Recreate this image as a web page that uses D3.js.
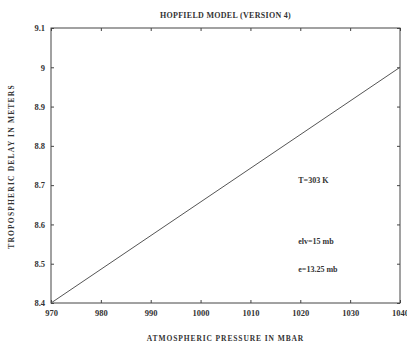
<!DOCTYPE html>
<html>
<head>
<meta charset="utf-8">
<script src="https://cdn.jsdelivr.net/npm/d3@7"></script>
<style>
  html, body { margin: 0; padding: 0; background: #fff; }
  svg { display: block; }
  text { font-family: "Liberation Serif", "DejaVu Serif", serif; fill: #333; }
</style>
</head>
<body>
<svg id="chart" width="407" height="345"></svg>
<script>
// Tropospheric delay vs. atmospheric pressure (Hopfield model, version 4)
const pressure = [970, 1040];
const delay = [8.4, 9.0];
const xTicks = [970, 980, 990, 1000, 1010, 1020, 1030, 1040];
const yTicks = [8.4, 8.5, 8.6, 8.7, 8.8, 8.9, 9.0, 9.1];
const yTickLabels = ["8.4", "8.5", "8.6", "8.7", "8.8", "8.9", "9", "9.1"];
const notes = ["T=303 K", "elv=15 mb", "e=13.25 mb"];
const noteY = [8.705, 8.55, 8.48];

const svg = d3.select("#chart");
const m = { left: 51, right: 400, top: 28, bottom: 303 };

const x = d3.scaleLinear().domain([970, 1040]).range([m.left, m.right]);
const y = d3.scaleLinear().domain([8.4, 9.1]).range([m.bottom, m.top]);

const ink = "#444";

// frame
svg.append("rect")
  .attr("x", m.left).attr("y", m.top)
  .attr("width", m.right - m.left).attr("height", m.bottom - m.top)
  .attr("fill", "none").attr("stroke", ink).attr("stroke-width", 1);

const tickLen = 3;

// bottom axis (inward ticks)
const xb = d3.axisBottom(x).tickValues(xTicks).tickSize(-tickLen).tickPadding(7)
  .tickFormat(d3.format("d"));
const gxb = svg.append("g").attr("transform", `translate(0,${m.bottom})`).call(xb);
// top axis ticks
const xt = d3.axisTop(x).tickValues(xTicks).tickSize(-tickLen).tickFormat("");
const gxt = svg.append("g").attr("transform", `translate(0,${m.top})`).call(xt);
// left axis
const yl = d3.axisLeft(y).tickValues(yTicks).tickSize(-tickLen).tickPadding(6)
  .tickFormat((d, i) => yTickLabels[i]);
const gyl = svg.append("g").attr("transform", `translate(${m.left},0)`).call(yl);
// right axis ticks
const yr = d3.axisRight(y).tickValues(yTicks).tickSize(-tickLen).tickFormat("");
const gyr = svg.append("g").attr("transform", `translate(${m.right},0)`).call(yr);

[gxb, gxt, gyl, gyr].forEach(g => {
  g.select(".domain").remove();
  g.selectAll(".tick line").attr("stroke", ink);
  g.selectAll(".tick text")
    .attr("font-family", "Liberation Serif, serif")
    .attr("font-size", 8.5).attr("font-weight", "bold").attr("fill", "#444");
});

// data line
svg.append("path")
  .datum(pressure.map((p, i) => [p, delay[i]]))
  .attr("fill", "none").attr("stroke", "#555").attr("stroke-width", 1)
  .attr("d", d3.line().x(d => x(d[0])).y(d => y(d[1])));

// title
svg.append("text")
  .attr("x", (m.left + m.right) / 2).attr("y", 18)
  .attr("text-anchor", "middle").attr("font-size", 8).attr("font-weight", "bold")
  .attr("letter-spacing", 0.3)
  .text("HOPFIELD MODEL (VERSION 4)");

// x axis title
svg.append("text")
  .attr("x", (m.left + m.right) / 2).attr("y", 341)
  .attr("text-anchor", "middle").attr("font-size", 7.5).attr("font-weight", "bold")
  .attr("letter-spacing", 0.9)
  .text("ATMOSPHERIC PRESSURE IN MBAR");

// y axis title
svg.append("text")
  .attr("transform", `translate(14,${(m.top + m.bottom) / 2 + 1}) rotate(-90)`)
  .attr("text-anchor", "middle").attr("font-size", 7.5).attr("font-weight", "bold")
  .attr("letter-spacing", 1.2)
  .text("TROPOSPHERIC DELAY IN METERS");

// annotations
svg.append("g").selectAll("text").data(notes).join("text")
  .attr("x", x(1019.6)).attr("y", (d, i) => y(noteY[i]))
  .attr("font-size", 8).attr("font-weight", "bold")
  .text(d => d);
</script>
</body>
</html>
